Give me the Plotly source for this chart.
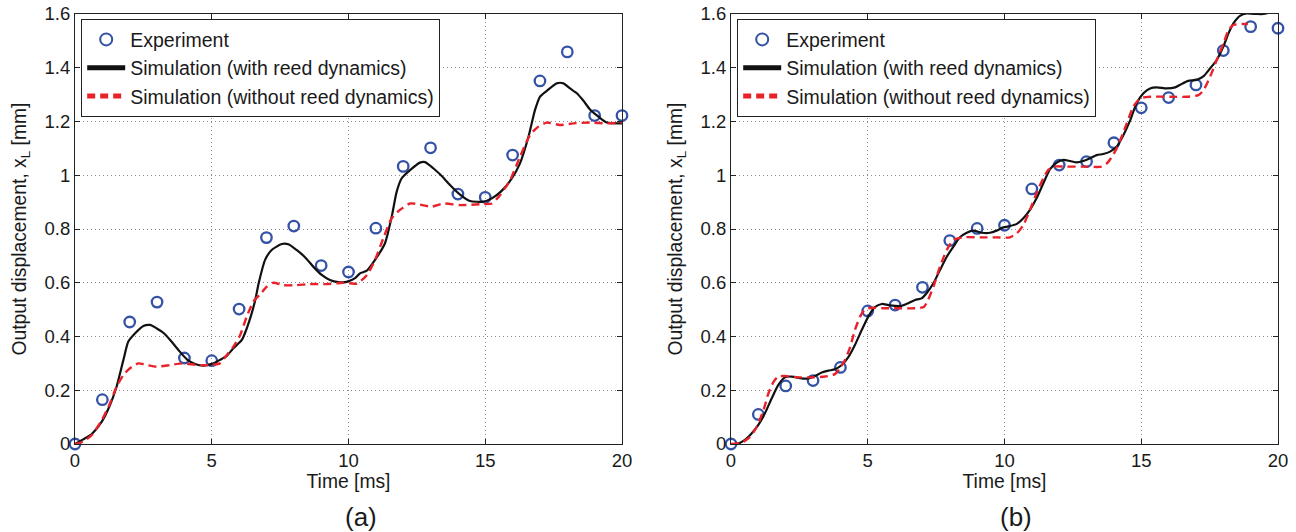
import plotly.graph_objects as go

# ---------------- data ----------------
t_exp = list(range(0, 21))
exp_a = [0.0, 0.165, 0.454, 0.528, 0.32, 0.31, 0.502, 0.768, 0.811, 0.664, 0.64,
         0.803, 1.033, 1.102, 0.93, 0.918, 1.075, 1.351, 1.459, 1.222, 1.222]
exp_b = [0.0, 0.110, 0.216, 0.236, 0.285, 0.495, 0.517, 0.583, 0.757, 0.802, 0.814,
         0.949, 1.038, 1.051, 1.121, 1.251, 1.289, 1.336, 1.464, 1.553, 1.547]

t_a_with = [0, 0.30, 0.61, 0.98, 1.28, 1.52, 1.77, 1.95, 2.2, 2.5, 2.74, 2.99, 3.23, 3.48,
            3.78, 4.09, 4.39, 4.70, 5.0, 5.3, 5.55, 5.79, 6.1, 6.28, 6.46, 6.59, 6.72, 6.95,
            7.19, 7.56, 7.80, 8.10, 8.41, 8.71, 9.02, 9.32, 9.63, 9.93, 10.24, 10.42, 10.67,
            10.97, 11.33, 11.58, 11.76, 11.94, 12.25, 12.61, 12.80, 13.10, 13.41, 13.71,
            14.08, 14.44, 14.93, 15.24, 15.60, 15.97, 16.27, 16.58, 16.82, 17.0, 17.25,
            17.61, 17.86, 18.10, 18.35, 18.59, 18.83, 19.14, 19.44, 20.0]
y_a_with = [0, 0.017, 0.037, 0.083, 0.145, 0.213, 0.313, 0.381, 0.412, 0.439, 0.443, 0.43,
            0.414, 0.387, 0.35, 0.315, 0.298, 0.292, 0.298, 0.313, 0.328, 0.356, 0.387, 0.43,
            0.486, 0.536, 0.60, 0.685, 0.722, 0.744, 0.743, 0.722, 0.695, 0.660, 0.629, 0.610,
            0.602, 0.603, 0.617, 0.635, 0.645, 0.685, 0.746, 0.846, 0.938, 0.988, 1.019,
            1.047, 1.049, 1.026, 0.997, 0.964, 0.928, 0.904, 0.902, 0.914, 0.942, 0.988,
            1.044, 1.143, 1.243, 1.292, 1.314, 1.342, 1.342, 1.323, 1.305, 1.277, 1.245,
            1.218, 1.196, 1.193]

t_a_without = [0, 0.3, 0.61, 0.98, 1.28, 1.52, 1.77, 2.01, 2.32, 2.62, 2.99, 3.48, 3.96,
               4.45, 4.94, 5.3, 5.55, 5.79, 6.04, 6.28, 6.52, 6.77, 7.01, 7.25, 7.62, 8.10,
               8.59, 9.20, 9.81, 10.30, 10.67, 10.97, 11.27, 11.58, 11.88, 12.25, 12.61,
               13.03, 13.47, 14.08, 14.93, 15.24, 15.54, 15.91, 16.27, 16.64, 16.94, 17.25,
               17.73, 18.22, 18.83, 19.44, 20.0]
y_a_without = [0, 0.009, 0.033, 0.089, 0.151, 0.213, 0.257, 0.282, 0.300, 0.294, 0.288,
               0.294, 0.300, 0.294, 0.294, 0.300, 0.331, 0.362, 0.406, 0.474, 0.530, 0.557,
               0.585, 0.600, 0.591, 0.591, 0.595, 0.595, 0.600, 0.597, 0.628, 0.685, 0.765,
               0.840, 0.871, 0.895, 0.891, 0.883, 0.895, 0.889, 0.893, 0.895, 0.926, 0.982,
               1.069, 1.150, 1.181, 1.196, 1.187, 1.193, 1.196, 1.193, 1.196]

t_b_with = [0, 0.27, 0.51, 0.76, 1.0, 1.24, 1.49, 1.73, 1.97, 2.22, 2.58, 2.83, 3.07, 3.32,
            3.56, 3.80, 4.05, 4.29, 4.53, 4.78, 5.02, 5.26, 5.51, 5.75, 6.0, 6.24, 6.48, 6.73,
            6.97, 7.15, 7.40, 7.64, 7.89, 8.13, 8.37, 8.62, 8.86, 9.17, 9.47, 9.71, 9.96,
            10.20, 10.45, 10.69, 10.93, 11.17, 11.42, 11.66, 11.91, 12.15, 12.40, 12.64,
            12.88, 13.13, 13.37, 13.61, 13.86, 14.1, 14.35, 14.59, 14.83, 15.08, 15.32,
            15.57, 15.93, 16.24, 16.48, 16.72, 17.03, 17.28, 17.52, 17.76, 18.01, 18.19,
            18.37, 18.61, 18.86, 19.22, 19.47, 19.71, 20.0]
y_b_with = [0, 0.002, 0.015, 0.040, 0.071, 0.114, 0.170, 0.220, 0.248, 0.251, 0.244, 0.244,
            0.253, 0.266, 0.273, 0.278, 0.294, 0.323, 0.368, 0.424, 0.474, 0.509, 0.521,
            0.517, 0.514, 0.514, 0.524, 0.536, 0.542, 0.561, 0.598, 0.647, 0.697, 0.734,
            0.769, 0.786, 0.794, 0.786, 0.786, 0.794, 0.806, 0.811, 0.819, 0.840, 0.871,
            0.914, 0.970, 1.022, 1.047, 1.057, 1.053, 1.048, 1.053, 1.063, 1.075, 1.079,
            1.088, 1.106, 1.150, 1.203, 1.268, 1.305, 1.323, 1.327, 1.323, 1.327, 1.340,
            1.351, 1.355, 1.369, 1.398, 1.429, 1.481, 1.528, 1.565, 1.593, 1.602, 1.600,
            1.600, 1.606, 1.615]

t_b_without = [0, 0.39, 0.70, 0.95, 1.19, 1.37, 1.56, 1.73, 1.97, 2.46, 2.95, 3.44, 3.80,
               3.99, 4.17, 4.36, 4.53, 4.72, 4.90, 5.14, 5.63, 6.12, 6.73, 7.05, 7.20, 7.40,
               7.64, 7.89, 8.13, 8.50, 9.11, 9.71, 10.20, 10.45, 10.69, 10.93, 11.17, 11.42,
               11.60, 11.78, 12.27, 13.0, 13.55, 13.75, 13.95, 14.1, 14.25, 14.47, 14.71,
               14.96, 15.32, 16.05, 16.66, 17.09, 17.28, 17.52, 17.76, 18.01, 18.19, 18.37,
               18.74, 18.9]
y_b_without = [0, 0.005, 0.027, 0.065, 0.127, 0.189, 0.232, 0.251, 0.253, 0.248, 0.248,
               0.251, 0.260, 0.282, 0.313, 0.362, 0.424, 0.474, 0.501, 0.507, 0.505, 0.505,
               0.505, 0.510, 0.535, 0.585, 0.660, 0.722, 0.759, 0.769, 0.769, 0.769, 0.769,
               0.784, 0.815, 0.871, 0.933, 0.989, 1.020, 1.032, 1.032, 1.032, 1.032, 1.045,
               1.072, 1.100, 1.135, 1.193, 1.255, 1.286, 1.292, 1.292, 1.292, 1.298, 1.317,
               1.367, 1.429, 1.491, 1.540, 1.559, 1.563, 1.563]

names = ["Experiment", "Simulation (with reed dynamics)", "Simulation (without reed dynamics)"]
x_ticks = [0, 5, 10, 15, 20]
y_ticks = [0, 0.2, 0.4, 0.6, 0.8, 1.0, 1.2, 1.4, 1.6]
panel_labels = ["(a)", "(b)"]

# ---------------- styling ----------------
FONT = "Liberation Sans, Arial, Helvetica, sans-serif"
TXT = "#1a1a1a"
BLUE = "#3452a6"
RED = "#e8212b"

W, H = 1296, 532
fig = go.Figure()

panels = [
    (t_exp, exp_a, t_a_with, y_a_with, t_a_without, y_a_without, "x", "y", "legend"),
    (t_exp, exp_b, t_b_with, y_b_with, t_b_without, y_b_without, "x2", "y2", "legend2"),
]
for (te, ye, tw, yw, to, yo, xa, ya, lg) in panels:
    fig.add_trace(go.Scatter(x=te, y=ye, mode="markers", name=names[0],
                             marker=dict(symbol="circle-open", size=10.5, color=BLUE,
                                         line=dict(width=2.3, color=BLUE)),
                             cliponaxis=False, xaxis=xa, yaxis=ya, legend=lg))
    fig.add_trace(go.Scatter(x=tw, y=yw, mode="lines", name=names[1],
                             line=dict(color="#111111", width=2.2, shape="spline", smoothing=0.6),
                             xaxis=xa, yaxis=ya, legend=lg))
    fig.add_trace(go.Scatter(x=to, y=yo, mode="lines", name=names[2],
                             line=dict(color=RED, width=2.4, dash="8px,5px", shape="spline",
                                       smoothing=0.6),
                             xaxis=xa, yaxis=ya, legend=lg))

def xaxis_style(domain):
    return dict(domain=domain, range=[0, 20], tickvals=x_ticks, ticks="inside", ticklen=5,
                tickcolor="#222", showline=True, linecolor="#222", linewidth=1.2,
                mirror="ticks", showgrid=True, gridcolor="#8c8c8c", gridwidth=1,
                griddash="1px,3px", zeroline=False, automargin=False,
                tickfont=dict(family=FONT, size=18.5, color=TXT),
                title=dict(text="Time [ms]", font=dict(family=FONT, size=19.3, color=TXT),
                           standoff=0))

def yaxis_style(anchor):
    return dict(domain=[88 / H, 518 / H], range=[0, 1.6], tickvals=y_ticks, ticks="inside",
                ticklen=5, tickcolor="#222", showline=True, linecolor="#222", linewidth=1.2,
                mirror="ticks", showgrid=True, gridcolor="#8c8c8c", gridwidth=1,
                griddash="1px,3px", zeroline=False, automargin=False, anchor=anchor,
                tickfont=dict(family=FONT, size=18.5, color=TXT),
                title=dict(text="Output displacement, x<sub>L</sub> [mm]",
                           font=dict(family=FONT, size=19.3, color=TXT), standoff=12))

def legend_style(x0):
    return dict(x=x0 / W, y=1 - 19 / H, xanchor="left", yanchor="top",
                bgcolor="white", bordercolor="#222", borderwidth=1.2,
                font=dict(family=FONT, size=19.5, color=TXT), tracegroupgap=0,
                itemwidth=38, itemsizing="constant")

fig.update_layout(
    width=W, height=H, margin=dict(l=0, r=0, t=0, b=0),
    paper_bgcolor="white", plot_bgcolor="white",
    font=dict(family=FONT, color=TXT),
    xaxis=dict(xaxis_style([75 / W, 622 / W]), anchor="y"),
    xaxis2=dict(xaxis_style([731 / W, 1278 / W]), anchor="y2"),
    yaxis=yaxis_style("x"),
    yaxis2=yaxis_style("x2"),
    legend=legend_style(81),
    legend2=legend_style(737),
    showlegend=True,
    annotations=[
        dict(text=panel_labels[0], x=361 / W, y=(H - 517) / H, xref="paper", yref="paper",
             showarrow=False, font=dict(family=FONT, size=26, color=TXT),
             xanchor="center", yanchor="middle"),
        dict(text=panel_labels[1], x=1016 / W, y=(H - 517) / H, xref="paper", yref="paper",
             showarrow=False, font=dict(family=FONT, size=26, color=TXT),
             xanchor="center", yanchor="middle"),
    ],
)

fig.write_html("out.html")
